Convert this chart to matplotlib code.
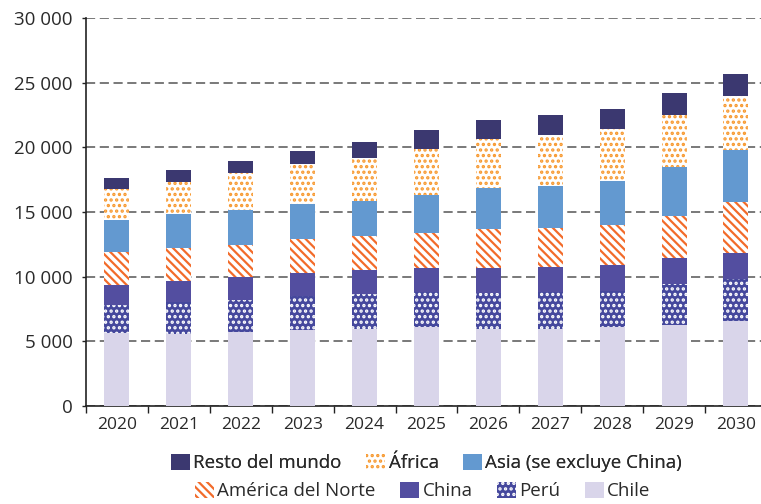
import matplotlib
matplotlib.use("Agg")
import matplotlib.pyplot as plt
import numpy as np
from matplotlib.patches import Patch
from matplotlib.ticker import FixedLocator, FuncFormatter

plt.rcParams['font.family'] = ['Open Sans', 'DejaVu Sans']
plt.rcParams['hatch.linewidth'] = 1.6

years = ['2020', '2021', '2022', '2023', '2024', '2025', '2026', '2027', '2028', '2029', '2030']

chile = [5620, 5600, 5730, 5850, 5960, 6115, 5960, 5960, 6085, 6270, 6580]
peru = [2170, 2425, 2480, 2690, 2710, 2715, 2790, 2840, 2790, 3180, 3250]
china = [1580, 1660, 1750, 1780, 1860, 1860, 1910, 1910, 2015, 1980, 1990]
america_norte = [2525, 2525, 2510, 2560, 2580, 2680, 3020, 3020, 3100, 3285, 3950]
asia = [2480, 2665, 2710, 2735, 2740, 2940, 3150, 3310, 3440, 3770, 4030]
africa = [2380, 2480, 2840, 3075, 3360, 3570, 3825, 3900, 3950, 4030, 4160]
resto = [905, 900, 905, 1065, 1190, 1450, 1445, 1550, 1575, 1680, 1685]

series = [
    ('Chile', chile, dict(facecolor='#d9d5ea', edgecolor='#d9d5ea', hatch=None)),
    ('Perú', peru, dict(facecolor='#45489d', edgecolor='white', hatch='...')),
    ('China', china, dict(facecolor='#534ea0', edgecolor='#534ea0', hatch=None)),
    ('América del Norte', america_norte, dict(facecolor='white', edgecolor='#f26b2a', hatch='\\\\\\\\')),
    ('Asia (se excluye China)', asia, dict(facecolor='#6399d0', edgecolor='#6399d0', hatch=None)),
    ('África', africa, dict(facecolor='white', edgecolor='#f7982e', hatch='...')),
    ('Resto del mundo', resto, dict(facecolor='#3b3870', edgecolor='#3b3870', hatch=None)),
]

W, H = 761, 504
fig = plt.figure(figsize=(W / 100, H / 100), dpi=100)
ax = fig.add_axes([86 / W, 98 / H, (W - 86) / W, (406 - 18) / H])

x = np.arange(len(years))
bottom = np.zeros(len(years))
for name, vals, st in series:
    vals = np.array(vals, dtype=float)
    ax.bar(x, vals, width=0.405, bottom=bottom, facecolor=st['facecolor'],
           edgecolor=st['edgecolor'], hatch=st['hatch'], linewidth=0, zorder=3)
    bottom += vals

ax.set_ylim(0, 30000)
ax.set_xlim(-0.5, (W - 86) / 61.9 - 0.5)
ax.set_yticks(np.arange(0, 30001, 5000))
ax.yaxis.set_major_formatter(FuncFormatter(lambda v, p: f"{int(v):,}".replace(',', ' ')))
ax.grid(axis='y', color='#555555', linestyle=(0, (6, 3)), linewidth=1.1, zorder=0)
ax.set_axisbelow(True)

ax.set_xticks(x)
ax.set_xticklabels(years)
ax.xaxis.set_minor_locator(FixedLocator(np.arange(-0.5, 11, 1.0)))
ax.tick_params(axis='x', which='major', length=0, pad=8, labelsize=12.5, colors='#2a2a2a')
ax.tick_params(axis='x', which='minor', length=5, width=1, color='#222222', direction='out')
ax.tick_params(axis='y', which='major', length=3, width=1, pad=6.5, labelsize=13.5,
               color='#222222', labelcolor='#2a2a2a', direction='out')

for s in ['top', 'right']:
    ax.spines[s].set_visible(False)
for s in ['left', 'bottom']:
    ax.spines[s].set_color('#222222')
    ax.spines[s].set_linewidth(1.2)

def mk(name):
    for n, v, sty in series:
        if n == name:
            return Patch(facecolor=sty['facecolor'], edgecolor=sty['edgecolor'],
                         hatch=sty['hatch'], linewidth=0, label=n)

row1 = ['Resto del mundo', 'África', 'Asia (se excluye China)']
row2 = ['América del Norte', 'China', 'Perú', 'Chile']

cx = (86 + W) / 2 / W
leg1 = fig.legend(handles=[mk(n) for n in row1], loc='center', bbox_to_anchor=(cx + 0.004, 1 - 463 / H),
                  ncol=3, frameon=False, fontsize=13.5, handlelength=1.0, handleheight=1.0,
                  handletextpad=0.2, columnspacing=1.3, borderpad=0, labelcolor='#2a2a2a')
fig.add_artist(leg1)
leg2 = fig.legend(handles=[mk(n) for n in row2], loc='center', bbox_to_anchor=(cx - 0.001, 1 - 491 / H),
                  ncol=4, frameon=False, fontsize=13.5, handlelength=1.0, handleheight=1.0,
                  handletextpad=0.2, columnspacing=1.3, borderpad=0, labelcolor='#2a2a2a')

fig.savefig('out.png', dpi=100)
